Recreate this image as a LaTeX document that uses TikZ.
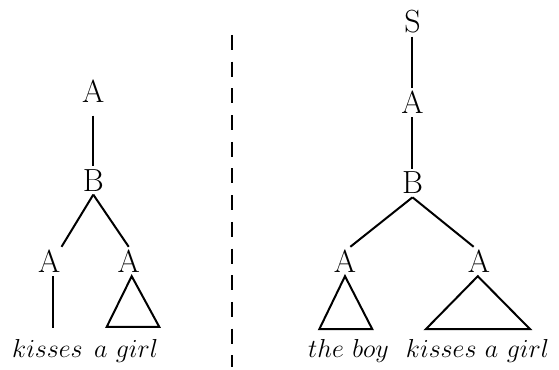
\RequirePackage{fix-cm}
\documentclass[tikz,border=0pt]{standalone}
\begin{document}
\begin{tikzpicture}[x=0.5pt, y=0.5pt]

    \useasboundingbox (0,0) rectangle (559,370);

    % --------------------
    % Estilos
    % --------------------
    \tikzset{
        cat/.style={font=\fontsize{16}{19}\selectfont, inner sep=1.5pt},
        folha/.style={font=\fontsize{13}{16}\selectfont, anchor=base, inner sep=6pt},
        ramo/.style={line width=1pt}
    }

    % --------------------
    % Arvore 1
    % --------------------
    \node[cat] (lAt) at (93.3,279.2) {A};
    \node[cat] (lB) at (93.3,189.7) {B};
    \node[cat] (lA1) at (49.2,108.5) {A};
    \node[cat] (lA2) at (128.7,108.5) {A};

    \node[folha] (lw1) at (47.5,12) {$kisses$};
    \node[folha] (lw2) at (126,12) {$a\ girl$};

    \draw[ramo, shorten <=5pt] (lAt) -- (lB);
    \draw[ramo] (lB.south) -- (lA1.50);
    \draw[ramo] (lB.south) -- (lA2.north);
    \draw[ramo] (lA1.285) -- (lA1.285 |- lw1.north);
    \draw[ramo] ([xshift=1.5pt]lA2.south) -- ++(-25,-50.7) -- ++(52.6,0) -- cycle;

    % --------------------
    % Separador
    % --------------------
    \draw[line width=1.3pt, dash pattern=on 7.5pt off 5.85pt] (232,335) -- (232,3);

    % --------------------
    % Arvore 2
    % --------------------
    \node[cat] (rS) at (412.5,348.3) {S};
    \node[cat] (rAt) at (412.5,267.5) {A};
    \node[cat] (rB) at (412.5,187) {B};
    \node[cat] (rA1) at (345,108.5) {A};
    \node[cat] (rA2) at (479,108.5) {A};

    \node[folha] (rw1) at (348.5,12) {$the\ boy$};
    \node[folha] (rw2) at (477.5,12) {$kisses\ a\ girl$};

    \draw[ramo] (rS) -- (rAt);
    \draw[ramo] (rAt) -- (rB);
    \draw[ramo] (rB.south) -- (rA1.70);
    \draw[ramo] (rB.south) -- (rA2.110);
    \draw[ramo] (rA1.south) -- ++(-25.7,-53) -- ++(53,0) -- cycle;
    \draw[ramo] ([xshift=-0.6pt]rA2.south) -- ++(-52,-53) -- ++(104.3,0) -- cycle;

\end{tikzpicture}
\end{document}
